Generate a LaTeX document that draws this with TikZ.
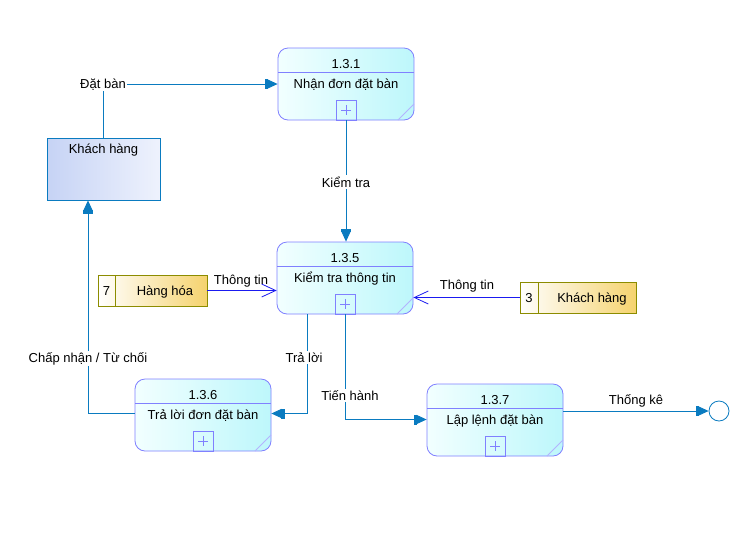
\documentclass[tikz,border=0pt]{standalone}
\usepackage{fontspec}
\setmainfont{Liberation Sans}
\usetikzlibrary{arrows.meta}
\definecolor{flowc}{HTML}{0A7BC0}
\definecolor{sflow}{HTML}{1A1AF0}
\definecolor{procb}{HTML}{8080FF}
\definecolor{procl}{HTML}{F2FFFF}
\definecolor{procr}{HTML}{BDF7FB}
\definecolor{entl}{HTML}{C6D3F5}
\definecolor{entr}{HTML}{EEF2FD}
\definecolor{storeb}{HTML}{8C8C00}
\definecolor{storer}{HTML}{F5D36E}
\tikzset{
  proc/.style={draw=procb, line width=0.8pt, rounded corners=10pt, minimum width=136pt, minimum height=72pt, inner sep=0pt, left color=procl, right color=procr},
  txt/.style={inner sep=0pt, anchor=base},
  lbl/.style={inner sep=1.5pt, anchor=base, fill=white},
  ent/.style={draw=flowc, line width=0.8pt, minimum width=113pt, minimum height=62pt, inner sep=0pt, left color=entl, right color=entr},
  store/.style={draw=storeb, line width=0.8pt, minimum height=31pt, inner sep=0pt, left color=white, right color=storer},
  flow/.style={draw=flowc, line width=0.8pt, -{Rectangle[length=3pt,width=10pt] Triangle[length=10pt,width=9pt]}},
  sflowst/.style={draw=sflow, line width=0.8pt, -{Straight Barb[length=14pt,width=13pt,line width=0.8pt]}},
}
\newcommand\procbox[5]{%
  \node[proc] (#1) at (#2+68,#3+36) {};
  \draw[procb, line width=0.8pt] (#2,#3+24.5) -- (#2+136,#3+24.5);
  \node[txt] at (#2+68,#3+20) {#4};
  \node[txt] at (#2+68,#3+40) {#5};
  \draw[procb, line width=0.8pt] (#2+58,#3+72) rectangle (#2+78,#3+52);
  \draw[procb, line width=0.8pt] (#2+63,#3+62) -- (#2+73,#3+62) (#2+68,#3+57) -- (#2+68,#3+67);
  \draw[procb!60, line width=0.8pt] (#2+120,#3+72) -- (#2+136,#3+56);
}
\begin{document}
\begin{tikzpicture}[x=1pt, y=-1pt, font=\fontsize{13}{15}\selectfont]
\useasboundingbox[fill=white] (0,0) rectangle (755,539);

% processes
\procbox{p131}{278}{48}{1.3.1}{Nhận đơn đặt bàn}
\procbox{p135}{277}{242}{1.3.5}{Kiểm tra thông tin}
\procbox{p136}{135}{379}{1.3.6}{Trả lời đơn đặt bàn}
\procbox{p137}{427}{384}{1.3.7}{Lập lệnh đặt bàn}

% external entity
\node[ent] (ent) at (103.5,169) {};
\node[txt] at (103.5,153) {Khách hàng};

% data stores
\node[store, minimum width=109pt] (hh) at (152.5,290.5) {};
\draw[storeb, line width=0.8pt] (115,275) -- (115,306);
\node[txt] at (106.5,295) {7};
\node[txt] at (165,295) {Hàng hóa};

\node[store, minimum width=116pt] (kh3) at (578,297.5) {};
\draw[storeb, line width=0.8pt] (538,282) -- (538,313);
\node[txt] at (529,302) {3};
\node[txt] at (592,302) {Khách hàng};

% terminator
\node[draw=flowc, line width=0.8pt, circle, minimum size=20pt, inner sep=0pt, fill=white] (end) at (719,411) {};

% flows
\draw[flow] (ent.north) |- (p131.west);
\node[lbl] at (103,88) {Đặt bàn};

\draw[flow] (p131.south) -- (p131.south |- p135.north);
\node[lbl] at (346,187) {Kiểm tra};

\draw[sflowst] (hh.east) -- (hh.east -| p135.west);
\node[txt] at (241,284) {Thông tin};

\draw[sflowst] (kh3.west) -- (kh3.west -| p135.east);
\node[txt] at (467,289) {Thông tin};

\draw[flow] ([xshift=-38pt]p135.south) |- ([yshift=1.5pt]p136.east);
\node[lbl] at (304,362) {Trả lời};

\draw[flow] ([xshift=0.5pt]p135.south) |- ([yshift=0.5pt]p137.west);
\node[lbl] at (350,400) {Tiến hành};

\draw[flow] ([yshift=1.5pt]p136.west) -| ([xshift=-15.5pt]ent.south);
\node[lbl] at (88,362) {Chấp nhận / Từ chối};

\draw[flow] (p137.east |- end.west) -- (end.west);
\node[txt] at (636,404) {Thống kê};
\end{tikzpicture}
\end{document}
